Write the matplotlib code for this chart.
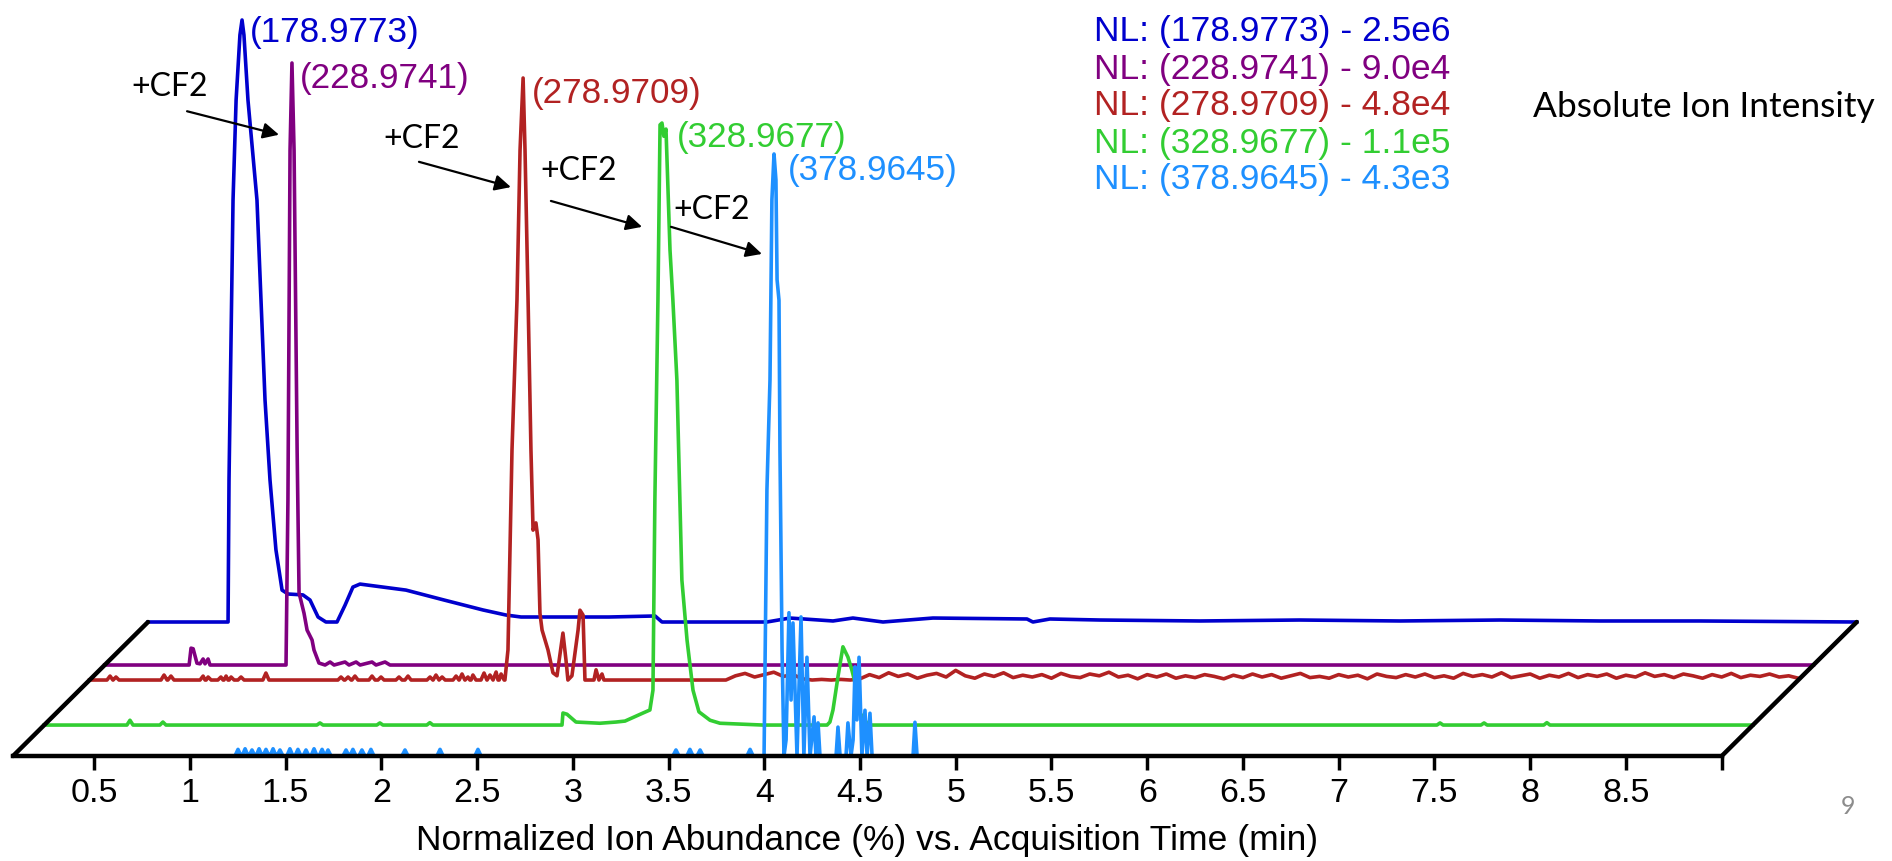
import numpy as np
import matplotlib.pyplot as plt

plt.rcParams['font.family'] = ['Liberation Sans', 'DejaVu Sans']

# extracted ion chromatograms, back trace first
mz = ['178.9773', '228.9741', '278.9709', '328.9677', '378.9645']
nl = ['2.5e6', '9.0e4', '4.8e4', '1.1e5', '4.3e3']
colors = ['#0000CD', '#800080', '#B22222', '#32CD32', '#1E90FF']
depth = [1.0, 0.679, 0.567, 0.231, 0.0]

# waterfall offset of the rearmost trace
shift_min = 0.705
lift_pct = 22.26

# retention time (min) / normalized abundance (%)
blue_t = [0.077, 0.495, 0.500, 0.521, 0.537, 0.557, 0.568, 0.578, 0.599, 0.646,
          0.667, 0.688, 0.714, 0.745, 0.777, 0.808, 0.886, 0.923, 0.965, 1.006,
          1.064, 1.106, 1.147, 1.184, 1.424, 1.623, 1.826, 1.946, 2.025, 2.223,
          2.484, 2.725, 2.761, 3.309, 3.429, 3.654, 3.758, 3.915, 4.176, 4.667,
          4.698, 4.787, 5.048, 5.570, 6.090, 6.615, 7.137, 7.659, 8.180, 9.000]
blue_i = [0, 0, 23.6, 70.1, 86.7, 97.5, 100, 97.5, 86.7, 70.1,
          53.5, 36.9, 23.6, 12.0, 5.3, 4.65, 4.5, 3.65, 0.83, 0,
          0, 2.8, 5.8, 6.3, 5.3, 3.65, 2.0, 1.16, 0.83, 0.83,
          0.83, 1.0, 0, 0, 0.66, 0.17, 0.66, 0, 0.66, 0.5,
          0, 0.5, 0.33, 0.17, 0.33, 0.17, 0.33, 0.17, 0.17, 0]

purple_t = [0.077, 0.518, 0.528, 0.539, 0.549, 0.559, 0.575, 0.591, 0.601, 0.617,
            0.627, 1.024, 1.034, 1.045, 1.055, 1.066, 1.082, 1.092, 1.118, 1.134,
            1.160, 1.170, 1.196, 1.228, 1.254, 1.275, 1.332, 1.353, 1.390, 1.411,
            1.473, 1.494, 1.541, 1.567, 9.000]
purple_i = [0, 0, 2.8, 2.7, 1.5, 0.3, 0.2, 1.0, 0.2, 1.0,
            0, 0, 27.4, 85.5, 100, 85.5, 35.7, 12.0, 8.6, 5.8,
            4.15, 2.5, 0.33, 0, 0.5, 0, 0.5, 0, 0.5, 0,
            0.5, 0, 0.5, 0, 0]

red_t = [0.077, 2.246, 2.262, 2.283, 2.309, 2.325, 2.341, 2.351, 2.367, 2.382,
         2.393, 2.408, 2.419, 2.429, 2.440, 2.471, 2.497, 2.518, 2.549, 2.565,
         2.575, 2.596, 2.628, 2.638, 2.654, 2.664, 2.711, 2.722, 2.737, 2.753,
         2.763, 3.400, 9.000]
red_i = [0, 0, 5.0, 38.2, 63.1, 88.0, 100, 88.0, 63.1, 38.2,
         24.9, 26.1, 23.3, 11.1, 8.3, 5.0, 1.2, 0.7, 7.8, 3.3,
         0, 0.7, 8.3, 11.6, 10.8, 0, 0, 1.7, 0, 1.0,
         0, 0, 0.3]
red_spike_t = [0.184, 0.215, 0.466, 0.502, 0.670, 0.696, 0.763, 0.790, 0.816, 0.868,
               0.998, 1.390, 1.427, 1.463, 1.552, 1.599, 1.693, 1.740, 1.855, 1.886,
               1.918, 1.991, 2.022, 2.053, 2.079, 2.137, 2.168, 2.200, 2.226]
red_spike_i = [0.66, 0.5, 0.83, 0.66, 0.66, 0.5, 0.5, 0.66, 0.5, 0.5,
               1.16, 0.5, 0.5, 0.66, 0.66, 0.5, 0.5, 0.66, 0.5, 0.83,
               0.5, 0.66, 1.0, 0.5, 0.83, 1.16, 0.83, 1.33, 1.0]
# noisy baseline after 3.4 min, read every 0.05 min
red_noise_t = np.round(np.arange(3.45, 8.96, 0.05), 2)
red_noise_i = [0.7, 1.1, 0.5, 0.9, 1.3, 0.6, 0.9, 0.2,
               0, 0.1, 0, 0.1, 0, 0.2,
               0.9, 0.4, 1.2, 0.6, 1.0, 0.3, 0.8, 1.1,
               0.5, 1.6, 0.7, 0.3, 1.0, 0.6, 1.2, 0.4, 0.8, 0.5,
               0.9, 0.3, 1.1, 0.6, 0.4, 1.0, 0.7, 1.3, 0.5, 0.8,
               0.2, 0.9, 0.5, 1.0, 0.3, 0.7, 0.4, 0.9, 0.6, 0.2,
               0.8, 0.4, 1.0, 0.5, 0.9, 0.3, 0.7, 1.1, 0.4, 0.6,
               0.3, 0.9, 0.5, 0.8, 0.2, 1.0, 0.6, 0.4, 0.9, 0.5,
               1.0, 0.4, 0.7, 0.3, 1.1, 0.6, 0.9, 0.5, 1.2, 0.4,
               0.7, 1.0, 0.3, 0.8, 0.5, 1.1, 0.4, 0.9, 0.6, 1.0,
               0.3, 0.8, 0.5, 1.2, 0.6, 0.9, 0.4, 1.0, 0.7, 0.3,
               0.9, 0.5, 1.1, 0.4, 0.8, 0.6, 1.0, 0.5, 0.7]

green_t = [0.077, 2.781, 2.786, 2.807, 2.854, 2.979, 3.063, 3.110, 3.204, 3.240,
           3.256, 3.266, 3.282, 3.293, 3.303, 3.313, 3.324, 3.345, 3.360, 3.381,
           3.407, 3.434, 3.465, 3.496, 3.554, 3.606, 3.830, 4.165, 4.180, 4.196,
           4.222, 4.248, 4.274, 4.295, 4.321, 4.337, 4.374, 4.389, 9.000]
green_i = [0, 0, 2.0, 1.8, 0.5, 0.3, 0.5, 0.66, 2.0, 2.5,
           5.8, 37.4, 70.6, 99.7, 100, 97.8, 99.0, 78.9, 70.6, 57.3,
           24.1, 14.1, 5.8, 2.2, 0.8, 0.3, 0, 0, 0.5, 2.5,
           8.0, 13.0, 11.3, 9.1, 5.8, 2.0, 0.3, 0, 0]
green_spike_t = [0.525, 0.697, 1.517, 1.830, 2.091, 7.366, 7.596, 7.924]
green_spike_i = [0.8, 0.5, 0.35, 0.35, 0.4, 0.35, 0.35, 0.4]

lblue_t = [0.077, 3.999, 4.014, 4.030, 4.040, 4.051, 4.061, 4.067, 4.077, 4.082,
           4.093, 4.103, 4.114, 4.129, 4.140, 4.150, 4.171, 4.192, 4.207, 4.223,
           4.239, 4.260, 4.270, 4.281, 4.291, 4.375, 4.385, 4.396, 4.427, 4.437,
           4.453, 4.464, 4.474, 4.484, 4.495, 4.510, 4.526, 4.537, 4.552, 4.563,
           4.777, 4.787, 4.798, 9.000]
lblue_i = [0, 0, 44.2, 62.5, 92.4, 100, 95.7, 79.1, 75.7, 50.8,
           17.6, 0, 2.7, 23.8, 9.3, 22.1, 0, 23.1, 0, 16.4,
           0, 6.5, 0, 5.5, 0, 0, 4.8, 0, 0, 5.5,
           0, 2.7, 14.8, 6.0, 16.4, 0, 7.6, 0, 7.1, 0,
           0, 5.6, 0, 0]
lblue_spike_t = [1.252, 1.289, 1.325, 1.362, 1.398, 1.435, 1.471, 1.523, 1.565, 1.607,
                 1.649, 1.691, 1.722, 1.816, 1.852, 1.899, 1.946, 2.124, 2.307, 2.505,
                 3.539, 3.612, 3.665, 3.926]
lblue_spike_i = [1.1, 1.2, 1.0, 1.2, 1.1, 1.2, 1.0, 1.2, 1.1, 1.0,
                 1.2, 1.1, 1.0, 1.0, 1.1, 1.0, 1.1, 1.0, 1.1, 1.1,
                 1.0, 1.1, 1.0, 1.1]

# label anchors in front-axis coordinates (min, %)
peak_label_x = [1.315, 1.576, 2.787, 3.544, 4.124]
peak_label_y = [120.1, 112.6, 110.1, 102.8, 97.3]
cf2_x = [0.693, 2.009, 2.829, 3.524]
cf2_y = [111.1, 102.5, 97.2, 90.7]
arrow_tail = [(0.986, 107.1), (2.197, 98.7), (2.886, 92.2), (3.513, 87.9)]
arrow_head = [(1.466, 103.2), (2.677, 94.5), (3.362, 87.9), (3.988, 83.4)]


def add_spikes(t, i, st, si, half=0.016):
    t = list(t) + [v for c in st for v in (c - half, c, c + half)]
    i = list(i) + [v for h in si for v in (0.0, h, 0.0)]
    order = np.argsort(t, kind='stable')
    return np.asarray(t)[order], np.asarray(i)[order]


red_t2, red_i2 = add_spikes(red_t, red_i, red_spike_t, red_spike_i)
order = np.argsort(np.concatenate([red_t2, red_noise_t]), kind='stable')
red_t2 = np.concatenate([red_t2, red_noise_t])[order]
red_i2 = np.concatenate([red_i2, red_noise_i])[order]
green_t2, green_i2 = add_spikes(green_t, green_i, green_spike_t, green_spike_i)
lblue_t2, lblue_i2 = add_spikes(lblue_t, lblue_i, lblue_spike_t, lblue_spike_i)

traces = [(np.asarray(blue_t), np.asarray(blue_i)),
          (np.asarray(purple_t), np.asarray(purple_i)),
          (red_t2, red_i2),
          (green_t2, green_i2),
          (lblue_t2, lblue_i2)]

fig = plt.figure(figsize=(18.92, 8.61), dpi=100)
ax = fig.add_axes([0, 0, 1, 1])
ax.set_xlim(0.0091, 9.8891)
ax.set_ylim(-17.44, 125.58)

for (t, i), d, c in zip(traces, depth, colors):
    ax.plot(t + d * shift_min, i + d * lift_pct, color=c, lw=2.6, zorder=2)

# floor of the waterfall
t0, t1 = 0.077, 9.0
for x0 in (t0, t1):
    ax.plot([x0, x0 + shift_min], [0, lift_pct], color='black', lw=3.2,
            solid_capstyle='round', zorder=3)

for side in ('left', 'right', 'top'):
    ax.spines[side].set_visible(False)
ax.spines['bottom'].set_position(('data', 0))
ax.spines['bottom'].set_bounds(t0, t1)
ax.spines['bottom'].set_linewidth(3.2)
ax.spines['bottom'].set_zorder(3)

ticks = np.arange(0.5, 9.01, 0.5)
ax.set_xticks(ticks)
ax.set_xticklabels([f'{v:g}' for v in ticks[:-1]] + [''])
ax.tick_params(axis='x', direction='out', length=10, width=2.5, pad=5.5,
               labelsize=24.5)
ax.set_yticks([])

ax.text(4.536, -14.1, 'Normalized Ion Abundance (%) vs. Acquisition Time (min)',
        ha='center', va='center', fontsize=25.5)

for k in range(5):
    ax.text(peak_label_x[k], peak_label_y[k], f'({mz[k]})', color=colors[k],
            ha='left', va='center', fontsize=25.3)
    ax.text(0.578, 1 - (32 + 37 * k) / 861, f'NL: ({mz[k]}) - {nl[k]}',
            color=colors[k], ha='left', va='center', fontsize=25.5,
            transform=ax.transAxes)

for x, y in zip(cf2_x, cf2_y):
    ax.text(x, y, '+CF2', ha='left', va='center', fontsize=23, family='Lato')
for tail, head in zip(arrow_tail, arrow_head):
    ax.annotate('', xy=head, xytext=tail,
                arrowprops=dict(arrowstyle='-|>', color='black', lw=1.6,
                                mutation_scale=24, shrinkA=0, shrinkB=0))

ax.text(0.810, 0.876, 'Absolute Ion Intensity', ha='left', va='center',
        fontsize=25.5, family='Lato', transform=ax.transAxes)
ax.text(0.977, 0.063, '9', ha='center', va='center', fontsize=18,
        family='Lato', color='#8C8C8C', transform=ax.transAxes)

fig.savefig('out.png', dpi=100)
